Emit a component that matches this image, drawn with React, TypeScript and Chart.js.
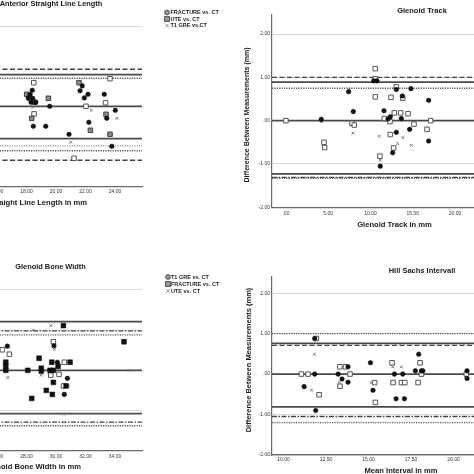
import React, { useEffect, useRef } from "react";
import { Chart, registerables } from "chart.js";

Chart.register(...registerables);

type P = [number, number];

// ---------------- Anterior Straight Line Length (top left) ----------------
const A_TITLE = "Anterior Straight Line Length";
const A_X_TITLE = "Anterior Straight Line Length in mm";
const A_LEGEND = ["FRACTURE vs. CT", "UTE vs. CT", "T1 GRE vs.CT"];
const A_X_RANGE = [15.86, 25.83];
const A_X_STEP = 2;
const A_Y_RANGE = [-2, 2.45];
const A_Y_STEP = 2;
const A_FRACTURE: P[] = [
  [18.39, 0.4], [18.24, 0.3], [18.12, 0.21], [18.31, 0.1], [18.62, 0.1], [18.42, 0.2],
  [18.46, -0.5], [19.3, -0.5], [19.57, 0.0], [21.78, 0.51], [21.63, 0.39], [21.92, 0.21],
  [22.17, 0.3], [20.88, -0.7], [22.22, -0.4], [23.27, 0.3], [23.44, -0.3], [24.02, -0.1],
  [23.78, -1.0],
];
const A_UTE: P[] = [
  [18.01, 0.3], [18.35, -0.3], [19.48, 0.2], [21.56, 0.59], [22.33, -0.6], [23.66, -0.7],
  [23.39, -0.2], [18.56, 0.1], [18.2, 0.2],
];
const A_UTE_OPEN: P[] = [
  [18.49, 0.59], [18.51, -0.19], [21.22, -1.3], [22.03, 0.0], [23.36, 0.09], [23.66, 0.69],
];
const A_T1: P[] = [[22.39, -0.1], [21.0, -0.9], [24.12, -0.3], [18.42, -0.02]];
const A_REF = [0.925, 0.79, 0.7, 0, -0.81, -0.99, -1.11, -1.35];
const A_REF_KIND = ["dash", "solid", "dot", "solid", "solid", "dotLight", "dot", "dash"];

// ---------------- Glenoid Track (top right) ----------------
const B_TITLE = "Glenoid Track";
const B_X_TITLE = "Glenoid Track in mm";
const B_Y_TITLE = "Difference Between Measurements (mm)";
const B_X_RANGE = [-1.65, 22.25];
const B_X_STEP = 5;
const B_Y_RANGE = [-2, 2.44];
const B_Y_STEP = 1;
const B_CIRCLES: P[] = [
  [4.18, 0.03], [7.42, 0.67], [7.97, 0.21], [10.38, 0.92], [10.77, 0.92], [13.06, 0.72],
  [13.77, 0.57], [14.79, 0.74], [16.88, 0.47], [11.6, 0.23], [12.35, 0.09], [12.07, 0.04],
  [13.65, 0.05], [13.06, -0.27], [14.64, -0.2], [16.88, -0.47], [12.63, -0.74], [11.16, -1.05],
];
const B_SQUARES: P[] = [
  [0.0, 0.0], [10.57, 1.2], [10.57, 0.97], [13.06, 0.78], [10.57, 0.55], [12.43, 0.54],
  [13.81, 0.52], [11.64, 0.05], [12.31, -0.02], [12.82, 0.18], [13.57, 0.18], [14.44, 0.16],
  [15.15, -0.08], [17.12, 0.0], [16.69, -0.2], [7.81, -0.06], [8.08, -0.1], [4.5, -0.5],
  [4.58, -0.62], [12.35, -0.32], [12.74, -0.63], [11.12, -0.82],
];
const B_CROSSES: P[] = [
  [7.93, -0.29], [11.04, -0.36], [13.85, -0.39], [13.21, -0.53], [14.83, -0.57], [11.16, -0.91],
  [4.2, -0.02],
];
const B_REF = [1.0, 0.89, 0.75, 0, -1.23, -1.31, -1.33];
const B_REF_KIND = ["dash", "solid", "dot", "solid", "solid", "dashdot", "dot"];

// ---------------- Glenoid Bone Width (bottom left) ----------------
const C_TITLE = "Glenoid Bone Width";
const C_X_TITLE = "Glenoid Bone Width in mm";
const C_LEGEND = ["T1 GRE vs. CT", "FRACTURE vs. CT", "UTE vs. CT"];
const C_X_RANGE = [25.86, 35.83];
const C_X_STEP = 2;
const C_Y_RANGE = [-2, 2.37];
const C_Y_STEP = 1;
const C_T1: P[] = [[26.7, 0.6], [29.86, 0.61], [30.09, 0.2], [30.77, -0.2], [30.56, -0.6]];
const C_FRACTURE: P[] = [
  [26.59, 0.2], [26.59, 0.1], [26.59, 0.0], [28.08, 0.0], [28.85, 0.3], [29.0, 0.05],
  [29.0, -0.02], [29.59, 0.0], [29.82, 0.0], [29.71, 0.2], [30.14, 0.1], [30.95, 0.2],
  [30.68, -0.39], [29.34, -0.5], [29.75, -0.6], [29.82, -0.3], [28.35, -0.7], [34.61, 0.71],
  [30.5, 1.11],
];
const C_OPEN: P[] = [
  [26.36, 0.51], [26.83, 0.4], [29.82, 0.71], [30.56, 0.2], [30.2, -0.1], [30.5, -0.39],
  [29.64, -0.12],
];
const C_UTE: P[] = [
  [29.64, 1.11], [28.46, 1.0], [29.89, 0.52], [26.73, -0.18], [30.84, -0.39], [34.97, 0.0],
  [30.5, -1.09], [29.0, -0.12],
];
const C_REF = [1.21, 0.98, 0.88, 0, -1.08, -1.29, -1.38];
const C_REF_KIND = ["solid", "dashdot", "dot", "solid", "solid", "dashdot", "dot"];

// ---------------- Hill Sachs Intervall (bottom right) ----------------
const D_TITLE = "Hill Sachs Intervall";
const D_X_TITLE = "Mean Interval in mm";
const D_Y_TITLE = "Difference Between Measurements (mm)";
const D_X_RANGE = [9.32, 21.2];
const D_X_STEP = 2.5;
const D_Y_RANGE = [-2, 2.4];
const D_Y_STEP = 1;
const D_CIRCLES: P[] = [
  [11.83, 0.88], [11.21, -0.31], [11.83, 0.0], [11.89, -0.9], [13.21, 0.0], [13.44, -0.12],
  [13.79, 0.18], [13.79, -0.2], [15.11, 0.28], [15.26, -0.4], [16.52, 0.0], [16.62, -0.61],
  [17.01, 0.0], [17.11, -0.61], [17.75, 0.08], [17.95, 0.49], [18.11, 0.08], [18.19, 0.08],
  [20.79, 0.08], [20.79, -0.11],
];
const D_SQUARES: P[] = [
  [11.93, 0.88], [11.05, 0.0], [11.44, 0.0], [12.09, -0.51], [13.31, 0.18], [13.64, 0.18],
  [13.32, -0.3], [13.91, 0.0], [15.36, -0.21], [15.4, -0.7], [16.38, 0.28], [16.44, -0.21],
  [16.93, -0.21], [17.13, -0.21], [17.91, -0.21], [18.03, 0.28], [18.11, 0.0], [20.75, 0.0],
];
const D_CROSSES: P[] = [
  [11.81, 0.49], [11.64, -0.4], [13.28, -0.2], [15.16, -0.21], [16.42, 0.18], [16.93, 0.18],
];
const D_REF = [1.0, 0.76, 0.71, 0, -0.81, -1.05, -1.2];
const D_REF_KIND = ["dot", "solid", "dash", "solid", "solid", "dashdot", "dot"];

// ---------------- styles ----------------
const FONT = '"Liberation Sans", Arial, Helvetica, sans-serif';

const LINE_STYLES: Record<string, any> = {
  solid: { borderDash: [], borderWidth: 1.7, borderColor: "#4a4a4a" },
  dash: { borderDash: [5, 2.5], borderWidth: 1.4, borderColor: "#444" },
  dot: { borderDash: [1.2, 1.2], borderWidth: 1.4, borderColor: "#555" },
  dotLight: { borderDash: [1.2, 1.2], borderWidth: 1.2, borderColor: "#999" },
  dashdot: { borderDash: [5, 1.5, 1.5, 1.5], borderWidth: 1.4, borderColor: "#444" },
};

const MARKERS: Record<string, any> = {
  circle: { pointStyle: "circle", pointRadius: 2.3, pointBackgroundColor: "#111", pointBorderColor: "#111", pointBorderWidth: 0.5 },
  openSquare: { pointStyle: "rect", pointRadius: 3.2, pointBackgroundColor: "#fff", pointBorderColor: "#555", pointBorderWidth: 1 },
  graySquare: { pointStyle: "rect", pointRadius: 3.2, pointBackgroundColor: "#8a8a8a", pointBorderColor: "#444", pointBorderWidth: 1 },
  blackSquare: { pointStyle: "rect", pointRadius: 3.4, pointBackgroundColor: "#111", pointBorderColor: "#111", pointBorderWidth: 0.5 },
  cross: { pointStyle: "crossRot", pointRadius: 2, pointBackgroundColor: "#777", pointBorderColor: "#777", pointBorderWidth: 1 },
};

const fmt = (v: number) => (Math.abs(v) < 1e-9 ? ".00" : Number(v).toFixed(2));

interface TextItem { text: string; x: number; y: number; size: number; align?: CanvasTextAlign; rotate?: number; }
interface LegendSpec { iconX: number; textX: number; ys: number[]; size: number; items: { text: string; icon: string }[]; }
interface Spec {
  left: number; top: number; width: number; height: number;
  area: [number, number, number, number];
  yW: number; xH: number; xTickPad: number;
  xRange: number[]; xStep: number; yRange: number[]; yStep: number;
  series: { label: string; pts: P[]; marker: string }[];
  refs: number[]; refKinds: string[];
  texts: TextItem[];
  legend?: LegendSpec;
}

const textPlugin = {
  id: "panelText",
  afterDraw(chart: any, _args: any, opts: any) {
    const ctx: CanvasRenderingContext2D = chart.ctx;
    const ox = opts.ox, oy = opts.oy;
    for (const t of opts.texts as TextItem[]) {
      ctx.save();
      ctx.font = `bold ${t.size}px ${FONT}`;
      ctx.fillStyle = "#1a1a1a";
      ctx.textAlign = t.align || "center";
      ctx.textBaseline = "middle";
      ctx.translate(t.x - ox, t.y - oy);
      if (t.rotate) ctx.rotate(t.rotate);
      ctx.fillText(t.text, 0, 0);
      ctx.restore();
    }
    const lg: LegendSpec | undefined = opts.legend;
    if (lg) {
      lg.items.forEach((it, i) => {
        const cx = lg.iconX - ox;
        const cy = lg.ys[i] - oy;
        ctx.save();
        ctx.lineWidth = 0.9;
        if (it.icon === "circle") {
          ctx.beginPath();
          ctx.arc(cx, cy, 2.4, 0, Math.PI * 2);
          ctx.fillStyle = "#9a9a9a";
          ctx.fill();
          ctx.strokeStyle = "#444";
          ctx.stroke();
        } else if (it.icon === "square") {
          ctx.fillStyle = "#9a9a9a";
          ctx.fillRect(cx - 2.4, cy - 2.4, 4.8, 4.8);
          ctx.strokeStyle = "#444";
          ctx.strokeRect(cx - 2.4, cy - 2.4, 4.8, 4.8);
        } else {
          ctx.strokeStyle = "#888";
          ctx.beginPath();
          ctx.moveTo(cx - 1.8, cy - 1.8); ctx.lineTo(cx + 1.8, cy + 1.8);
          ctx.moveTo(cx + 1.8, cy - 1.8); ctx.lineTo(cx - 1.8, cy + 1.8);
          ctx.stroke();
        }
        ctx.font = `bold ${lg.size}px ${FONT}`;
        ctx.fillStyle = "#222";
        ctx.textAlign = "left";
        ctx.textBaseline = "middle";
        ctx.fillText(it.text, lg.textX - ox, cy);
        ctx.restore();
      });
    }
  },
};

function buildConfig(s: Spec): any {
  const [al, at, ar, ab] = s.area;
  const padding = {
    left: al - s.left - s.yW,
    top: at - s.top,
    right: s.left + s.width - ar,
    bottom: s.top + s.height - ab - s.xH,
  };
  const datasets: any[] = [];
  s.series.forEach((sr) => {
    datasets.push({
      label: sr.label,
      data: sr.pts.map(([x, y]) => ({ x, y })),
      showLine: false,
      ...MARKERS[sr.marker],
    });
  });
  s.refs.forEach((v, i) => {
    datasets.push({
      label: "ref " + i,
      data: [{ x: s.xRange[0], y: v }, { x: s.xRange[1], y: v }],
      showLine: true,
      pointRadius: 0,
      fill: false,
      ...LINE_STYLES[s.refKinds[i]],
    });
  });
  const zeroPad = (sc: any) => {
    sc.paddingLeft = 0; sc.paddingRight = 0; sc.paddingTop = 0; sc.paddingBottom = 0;
  };
  return {
    type: "scatter",
    data: { datasets },
    plugins: [textPlugin],
    options: {
      responsive: false,
      animation: false,
      devicePixelRatio: 1,
      events: [],
      layout: { padding, autoPadding: false },
      plugins: {
        legend: { display: false },
        tooltip: { enabled: false },
        title: { display: false },
        panelText: { ox: s.left, oy: s.top, texts: s.texts, legend: s.legend },
      },
      scales: {
        x: {
          type: "linear",
          position: "bottom",
          min: s.xRange[0],
          max: s.xRange[1],
          afterFit: (sc: any) => { sc.height = s.xH; zeroPad(sc); },
          grid: { display: false, drawTicks: false },
          border: { display: true, color: "#6a6a6a", width: 1.2 },
          ticks: {
            stepSize: s.xStep, includeBounds: false, autoSkip: false, maxRotation: 0,
            padding: s.xTickPad, color: "#333", font: { size: 5, family: FONT },
            callback: (v: any) => fmt(Number(v)),
          },
        },
        y: {
          type: "linear",
          position: "left",
          min: s.yRange[0],
          max: s.yRange[1],
          afterFit: (sc: any) => { sc.width = s.yW; zeroPad(sc); },
          grid: { display: true, drawTicks: false, color: "#dadada", lineWidth: 1 },
          border: { display: true, color: "#6a6a6a", width: 1.2 },
          ticks: {
            stepSize: s.yStep, includeBounds: false, autoSkip: false,
            padding: 2, color: "#333", font: { size: 5, family: FONT },
            callback: (v: any) => fmt(Number(v)),
          },
        },
      },
    },
  };
}

const SPECS: Spec[] = [
  {
    left: -40, top: 0, width: 277, height: 237,
    area: [-5, 8.3, 142, 186.3], yW: 30, xH: 20, xTickPad: 2.5,
    xRange: A_X_RANGE, xStep: A_X_STEP, yRange: A_Y_RANGE, yStep: A_Y_STEP,
    series: [
      { label: A_LEGEND[0], pts: A_FRACTURE, marker: "circle" },
      { label: A_LEGEND[1], pts: A_UTE, marker: "graySquare" },
      { label: A_LEGEND[1] + " (open)", pts: A_UTE_OPEN, marker: "openSquare" },
      { label: A_LEGEND[2], pts: A_T1, marker: "cross" },
    ],
    refs: A_REF, refKinds: A_REF_KIND,
    texts: [
      { text: A_TITLE, x: 51, y: 4, size: 7.4 },
      { text: A_X_TITLE, x: 87, y: 203, size: 7.6, align: "right" },
    ],
    legend: {
      iconX: 167, textX: 170.5, ys: [12.5, 19, 25.5], size: 5.5,
      items: [
        { text: A_LEGEND[0], icon: "circle" },
        { text: A_LEGEND[1], icon: "square" },
        { text: A_LEGEND[2], icon: "cross" },
      ],
    },
  },
  {
    left: 237, top: 0, width: 237, height: 237,
    area: [272, 15, 474, 207.3], yW: 30, xH: 20, xTickPad: 3,
    xRange: B_X_RANGE, xStep: B_X_STEP, yRange: B_Y_RANGE, yStep: B_Y_STEP,
    series: [
      { label: "FRACTURE vs. CT", pts: B_CIRCLES, marker: "circle" },
      { label: "UTE vs. CT", pts: B_SQUARES, marker: "openSquare" },
      { label: "T1 GRE vs.CT", pts: B_CROSSES, marker: "cross" },
    ],
    refs: B_REF, refKinds: B_REF_KIND,
    texts: [
      { text: B_TITLE, x: 422, y: 11, size: 7.5 },
      { text: B_X_TITLE, x: 394.5, y: 225, size: 7.6 },
      { text: B_Y_TITLE, x: 247, y: 115, size: 7, rotate: -Math.PI / 2 },
    ],
  },
  {
    left: -40, top: 237, width: 277, height: 237,
    area: [-5, 275, 142, 450.7], yW: 30, xH: 20, xTickPad: 2.5,
    xRange: C_X_RANGE, xStep: C_X_STEP, yRange: C_Y_RANGE, yStep: C_Y_STEP,
    series: [
      { label: C_LEGEND[0], pts: C_T1, marker: "circle" },
      { label: C_LEGEND[1], pts: C_FRACTURE, marker: "blackSquare" },
      { label: C_LEGEND[1] + " (open)", pts: C_OPEN, marker: "openSquare" },
      { label: C_LEGEND[2], pts: C_UTE, marker: "cross" },
    ],
    refs: C_REF, refKinds: C_REF_KIND,
    texts: [
      { text: C_TITLE, x: 50.5, y: 267, size: 7.4 },
      { text: C_X_TITLE, x: 81, y: 467, size: 7.6, align: "right" },
    ],
    legend: {
      iconX: 168, textX: 171, ys: [277, 284, 291], size: 5.5,
      items: [
        { text: C_LEGEND[0], icon: "circle" },
        { text: C_LEGEND[1], icon: "square" },
        { text: C_LEGEND[2], icon: "cross" },
      ],
    },
  },
  {
    left: 237, top: 237, width: 237, height: 237,
    area: [272, 277, 474, 455], yW: 30, xH: 19, xTickPad: 1.5,
    xRange: D_X_RANGE, xStep: D_X_STEP, yRange: D_Y_RANGE, yStep: D_Y_STEP,
    series: [
      { label: "FRACTURE vs. CT", pts: D_CIRCLES, marker: "circle" },
      { label: "UTE vs. CT", pts: D_SQUARES, marker: "openSquare" },
      { label: "T1 GRE vs.CT", pts: D_CROSSES, marker: "cross" },
    ],
    refs: D_REF, refKinds: D_REF_KIND,
    texts: [
      { text: D_TITLE, x: 422, y: 271, size: 7.5 },
      { text: D_X_TITLE, x: 401, y: 471, size: 7.6 },
      { text: D_Y_TITLE, x: 249, y: 360, size: 7.5, rotate: -Math.PI / 2 },
    ],
  },
];

function Panel({ spec }: { spec: Spec }) {
  const ref = useRef<HTMLCanvasElement>(null);
  useEffect(() => {
    if (!ref.current) return;
    const chart = new Chart(ref.current, buildConfig(spec));
    return () => chart.destroy();
  }, [spec]);
  return (
    <div style={{ position: "absolute", left: spec.left, top: spec.top, width: spec.width, height: spec.height }}>
      <canvas
        ref={ref}
        width={spec.width}
        height={spec.height}
        style={{ display: "block", width: spec.width, height: spec.height }}
      />
    </div>
  );
}

export default function App() {
  return (
    <div
      style={{
        position: "absolute",
        left: 0,
        top: 0,
        width: 474,
        height: 474,
        overflow: "hidden",
        background: "#fff",
      }}
    >
      {SPECS.map((s, i) => (
        <Panel key={i} spec={s} />
      ))}
    </div>
  );
}
